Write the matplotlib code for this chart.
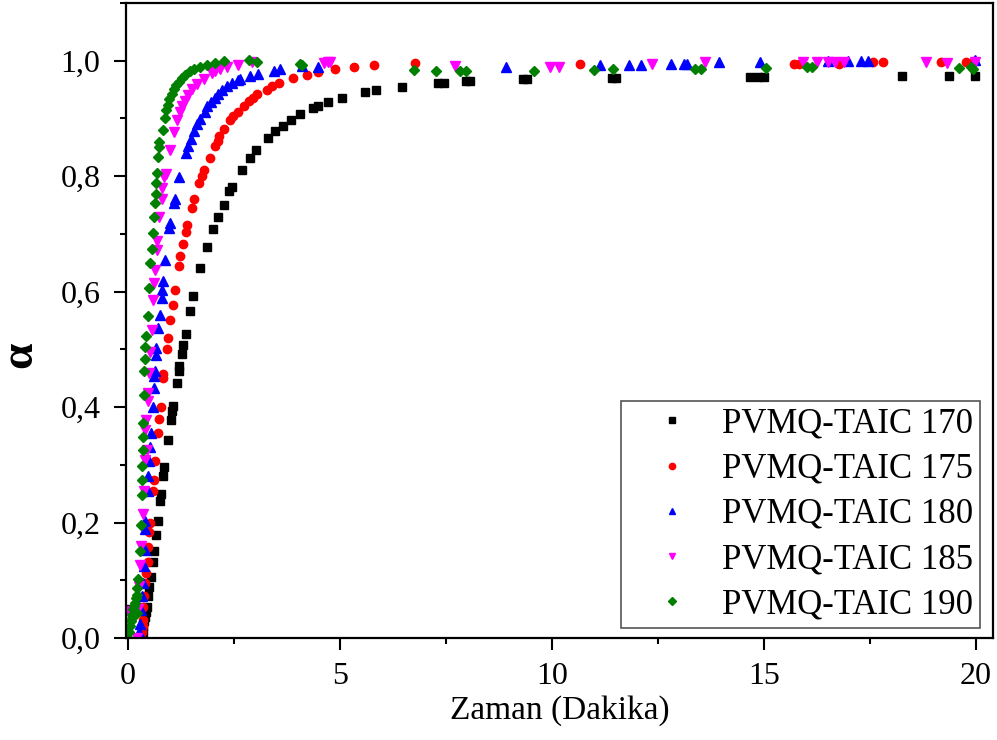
import matplotlib
matplotlib.use("Agg")
import matplotlib.pyplot as plt
from matplotlib.ticker import MultipleLocator, FuncFormatter

labels = ["PVMQ-TAIC 170", "PVMQ-TAIC 175", "PVMQ-TAIC 180", "PVMQ-TAIC 185", "PVMQ-TAIC 190"]

t170 = [0.0, 0.30, 0.32, 0.34, 0.36, 0.38, 0.40, 0.42, 0.44, 0.48, 0.50, 0.54, 0.58, 0.60, 0.66, 0.70, 0.75, 0.78,
        0.82, 0.85, 0.95, 1.01, 1.03, 1.05, 1.15, 1.19, 1.21, 1.27, 1.29, 1.37, 1.46, 1.54, 1.70, 1.87, 2.01, 2.13,
        2.25, 2.39, 2.45, 2.68, 2.88, 3.02, 3.29, 3.47, 3.65, 3.84, 4.06, 4.37, 4.48, 4.71, 5.05, 5.58, 5.84, 6.45,
        7.31, 7.44, 7.97, 8.07, 9.31, 9.42, 11.41, 11.50, 14.67, 14.85, 14.99, 18.25, 19.37, 19.98]
a170 = [0.050, 0.000, 0.002, 0.010, 0.020, 0.030, 0.037, 0.045, 0.054, 0.072, 0.089, 0.105, 0.131, 0.150, 0.179,
        0.202, 0.238, 0.250, 0.280, 0.296, 0.343, 0.377, 0.394, 0.402, 0.441, 0.463, 0.471, 0.492, 0.508, 0.527,
        0.566, 0.592, 0.641, 0.678, 0.708, 0.730, 0.750, 0.774, 0.782, 0.811, 0.831, 0.845, 0.866, 0.878, 0.887,
        0.898, 0.908, 0.918, 0.922, 0.928, 0.935, 0.945, 0.949, 0.955, 0.961, 0.962, 0.965, 0.965, 0.968, 0.968,
        0.970, 0.970, 0.971, 0.971, 0.972, 0.973, 0.974, 0.974]

t175 = [0.30, 0.32, 0.34, 0.35, 0.36, 0.38, 0.40, 0.42, 0.46, 0.48, 0.50, 0.52, 0.58, 0.60, 0.64, 0.70, 0.74, 0.77,
        0.82, 0.83, 0.91, 0.94, 0.99, 1.05, 1.11, 1.19, 1.23, 1.29, 1.37, 1.40, 1.50, 1.56, 1.68, 1.74, 1.79, 1.92,
        2.05, 2.11, 2.15, 2.26, 2.41, 2.48, 2.58, 2.74, 2.84, 2.94, 3.05, 3.27, 3.39, 3.55, 3.90, 4.23, 4.48, 4.88,
        5.33, 5.80, 6.77, 10.66, 15.70, 15.83, 16.77, 17.56, 17.80, 19.17, 19.77, 19.95]
a175 = [0.000, 0.010, 0.020, 0.031, 0.054, 0.072, 0.095, 0.113, 0.131, 0.157, 0.184, 0.200, 0.254, 0.273, 0.306,
        0.355, 0.379, 0.401, 0.450, 0.458, 0.500, 0.519, 0.551, 0.577, 0.602, 0.645, 0.661, 0.683, 0.704, 0.716,
        0.745, 0.760, 0.788, 0.801, 0.810, 0.831, 0.853, 0.861, 0.869, 0.882, 0.898, 0.905, 0.912, 0.922, 0.930,
        0.935, 0.943, 0.950, 0.956, 0.961, 0.970, 0.976, 0.980, 0.986, 0.990, 0.993, 0.996, 0.995, 0.995, 0.995,
        0.995, 0.997, 0.997, 0.997, 0.998, 1.000]

t180 = [0.22, 0.25, 0.28, 0.30, 0.32, 0.35, 0.38, 0.40, 0.40, 0.40, 0.46, 0.48, 0.50, 0.52, 0.54, 0.58, 0.61, 0.61,
        0.64, 0.66, 0.66, 0.70, 0.75, 0.79, 0.79, 0.82, 0.87, 0.97, 0.99, 1.08, 1.11, 1.21, 1.37, 1.42, 1.48, 1.56,
        1.63, 1.70, 1.82, 1.87, 1.95, 2.04, 2.13, 2.21, 2.33, 2.45, 2.58, 2.64, 2.88, 3.07, 3.43, 3.58, 4.10, 4.49,
        8.91, 11.12, 11.81, 12.10, 12.80, 13.10, 13.18, 13.94, 14.90, 16.51, 16.98, 17.28, 17.46, 19.98]
a180 = [0.000, 0.010, 0.025, 0.049, 0.072, 0.095, 0.124, 0.153, 0.188, 0.203, 0.254, 0.280, 0.306, 0.331, 0.355,
        0.401, 0.433, 0.453, 0.462, 0.490, 0.502, 0.537, 0.560, 0.589, 0.603, 0.618, 0.654, 0.710, 0.719, 0.753,
        0.760, 0.799, 0.841, 0.853, 0.864, 0.879, 0.891, 0.899, 0.912, 0.921, 0.928, 0.935, 0.943, 0.950, 0.956,
        0.961, 0.966, 0.968, 0.973, 0.977, 0.983, 0.986, 0.991, 0.990, 0.989, 0.993, 0.993, 0.993, 0.995, 0.995,
        0.995, 0.997, 0.997, 1.000, 1.000, 1.000, 1.000, 1.002]

t185 = [0.01, 0.20, 0.24, 0.26, 0.28, 0.30, 0.35, 0.38, 0.40, 0.44, 0.40, 0.42, 0.48, 0.46, 0.50, 0.52, 0.56, 0.58,
        0.61, 0.64, 0.68, 0.69, 0.74, 0.79, 0.79, 0.85, 0.90, 0.99, 1.08, 1.16, 1.23, 1.27, 1.34, 1.42, 1.50, 1.62,
        1.78, 1.97, 2.05, 2.17, 2.33, 2.58, 2.92, 4.61, 4.72, 4.77, 7.71, 9.94, 10.17, 12.36, 13.60, 15.91, 16.25,
        16.51, 16.67, 16.88, 18.82, 19.31, 19.98]
a185 = [0.046, 0.000, 0.050, 0.090, 0.127, 0.159, 0.215, 0.254, 0.308, 0.326, 0.360, 0.378, 0.410, 0.424, 0.459,
        0.496, 0.534, 0.586, 0.615, 0.638, 0.672, 0.687, 0.730, 0.760, 0.779, 0.799, 0.804, 0.846, 0.876, 0.898,
        0.911, 0.921, 0.930, 0.941, 0.951, 0.960, 0.968, 0.979, 0.982, 0.986, 0.990, 0.993, 0.997, 0.996, 0.997,
        0.997, 0.991, 0.990, 0.990, 0.995, 0.997, 0.998, 0.998, 0.998, 0.997, 0.997, 0.998, 0.996, 0.998]

t190 = [0.00, 0.02, 0.04, 0.06, 0.08, 0.10, 0.12, 0.14, 0.16, 0.18, 0.20, 0.22, 0.22, 0.24, 0.28, 0.30, 0.32, 0.32,
        0.32, 0.35, 0.35, 0.36, 0.38, 0.38, 0.40, 0.40, 0.42, 0.46, 0.50, 0.52, 0.56, 0.58, 0.60, 0.64, 0.66, 0.66,
        0.68, 0.71, 0.74, 0.74, 0.82, 0.87, 0.90, 0.93, 0.97, 1.03, 1.08, 1.13, 1.19, 1.27, 1.34, 1.45, 1.56, 1.70,
        1.87, 2.05, 2.26, 2.84, 3.05, 4.06, 4.11, 6.74, 7.26, 7.82, 7.97, 9.58, 10.99, 11.43, 13.36, 13.52, 15.04,
        16.02, 16.14, 19.59, 19.87, 19.93]
a190 = [0.000, 0.010, 0.020, 0.030, 0.035, 0.040, 0.050, 0.055, 0.060, 0.070, 0.075, 0.044, 0.086, 0.103, 0.150,
        0.196, 0.248, 0.273, 0.298, 0.325, 0.349, 0.373, 0.421, 0.463, 0.483, 0.504, 0.523, 0.558, 0.606, 0.649,
        0.674, 0.701, 0.730, 0.753, 0.769, 0.788, 0.805, 0.833, 0.850, 0.860, 0.880, 0.901, 0.915, 0.924, 0.933,
        0.943, 0.951, 0.958, 0.964, 0.970, 0.976, 0.982, 0.986, 0.990, 0.993, 0.996, 0.999, 1.002, 0.997, 0.995,
        0.993, 0.984, 0.983, 0.982, 0.982, 0.982, 0.984, 0.986, 0.986, 0.986, 0.988, 0.989, 0.989, 0.988, 0.989,
        0.986]

series = [(t170, a170, "s", "black", 5.5),
          (t175, a175, "o", "#ff0000", 6.0),
          (t180, a180, "^", "#0000ff", 6.5),
          (t185, a185, "v", "#ff00ff", 6.5),
          (t190, a190, "D", "#007f00", 5.5)]

plt.rcParams['font.family'] = ['Liberation Serif', 'DejaVu Serif']
plt.rcParams['mathtext.fontset'] = 'custom'
plt.rcParams['mathtext.rm'] = 'Liberation Serif'
plt.rcParams['mathtext.it'] = 'Liberation Serif:italic'
plt.rcParams['mathtext.bf'] = 'Liberation Serif:bold'

fig = plt.figure(figsize=(9.97, 7.40), dpi=100)
ax = fig.add_axes([126/997, 1 - 638/740, (993 - 126)/997, (638 - 3)/740])

for (t, a, m, c, ms), lab in zip(series, labels):
    ax.plot(t, a, linestyle="none", marker=m, color=c, markersize=ms, markeredgewidth=1.0,
            markeredgecolor=c, label=lab)

ax.set_xlim(-0.05, 20.4)
ax.set_ylim(0, 1.1)
ax.xaxis.set_major_locator(MultipleLocator(5))
ax.xaxis.set_minor_locator(MultipleLocator(2.5))
ax.yaxis.set_major_locator(MultipleLocator(0.2))
ax.yaxis.set_minor_locator(MultipleLocator(0.1))
ax.yaxis.set_major_formatter(FuncFormatter(lambda v, p: f"{v:.1f}".replace(".", ",")))
ax.xaxis.set_major_formatter(FuncFormatter(lambda v, p: f"{v:g}"))
ax.tick_params(which="major", direction="out", length=8.5, width=1.5, labelsize=23)
ax.tick_params(axis="x", which="major", pad=9)
ax.tick_params(axis="y", which="major", pad=10)
ax.tick_params(which="minor", direction="out", length=4, width=1.5)
for s in ax.spines.values():
    s.set_linewidth(1.6)

ax.set_xlabel("Zaman (Dakika)", fontsize=24, labelpad=3)
fig.text(22/997, 1 - 356/740, r"$\mathbf{α}$", rotation=90, fontsize=34, ha="center", va="center")

leg = ax.legend(loc="lower right", bbox_to_anchor=(0.985, 0.016), fontsize=25, frameon=True, fancybox=False,
                edgecolor="#555555", framealpha=1, handlelength=2.56, handletextpad=0.16, borderpad=0.19,
                labelspacing=0.35, markerscale=0.75, borderaxespad=0)
leg.get_frame().set_linewidth(1.2)

fig.savefig("out.png", dpi=100)
